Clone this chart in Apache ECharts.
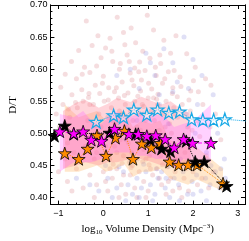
<!DOCTYPE html>
<html><head><meta charset="utf-8">
<script src="https://cdn.jsdelivr.net/npm/echarts@6/dist/echarts.min.js"></script>
<style>html,body{margin:0;padding:0;background:#fff}#c{width:249px;height:241px}</style>
</head><body><div id="c"></div>
<script>
// ---- axis ranges / ticks ----
const X_MIN = -1.18, X_MAX = 3.16, Y_MIN = 0.389, Y_MAX = 0.70;
const xMajor = [-1, 0, 1, 2, 3];
const xMinor = [-1.0,-0.8,-0.6,-0.4,-0.2,0,0.2,0.4,0.6,0.8,1,1.2,1.4,1.6,1.8,2,2.2,2.4,2.6,2.8,3];
const yMajor = [0.40, 0.45, 0.50, 0.55, 0.60, 0.65, 0.70];
const yMinor = [0.39,0.40,0.41,0.42,0.43,0.44,0.45,0.46,0.47,0.48,0.49,0.50,0.51,0.52,0.53,0.54,0.55,0.56,0.57,0.58,0.59,0.60,0.61,0.62,0.63,0.64,0.65,0.66,0.67,0.68,0.69,0.70];

// ---- star series ----
const cyanX = [-0.16, 0.23, 0.45, 0.68, 0.97, 1.21, 1.46, 1.70, 1.97, 2.22, 2.46, 2.71, 3.40];
const cyanY = [0.518, 0.528, 0.525, 0.537, 0.529, 0.537, 0.532, 0.534, 0.522, 0.521, 0.521, 0.522, 0.518];

const magX = [-0.97, -0.66, -0.45, -0.27, -0.04, 0.25, 0.57, 0.78, 0.97, 1.17, 1.38, 1.58, 1.79, 1.99, 2.40];
const magY = [0.503, 0.500, 0.503, 0.490, 0.488, 0.507, 0.499, 0.499, 0.496, 0.497, 0.491, 0.478, 0.491, 0.485, 0.485];

const orgX = [-0.86, -0.55, -0.35, -0.14, 0.06, 0.27, 0.47, 0.66, 0.86, 1.07, 1.27, 1.48, 1.68, 1.89, 2.09, 2.67];
const orgY = [0.469, 0.460, 0.476, 0.497, 0.465, 0.493, 0.504, 0.460, 0.484, 0.478, 0.485, 0.456, 0.451, 0.451, 0.451, 0.422];

const blkX = [-1.09, -0.86, -0.66, 0.14, 0.72, 1.05, 1.30, 1.50, 1.85, 2.05, 2.25, 2.75];
const blkY = [0.496, 0.512, 0.499, 0.501, 0.499, 0.490, 0.476, 0.472, 0.488, 0.456, 0.456, 0.418];

// ---- shaded bands ----
const orgBandX = [-0.86, -0.55, -0.35, -0.14, 0.06, 0.27, 0.47, 0.66, 0.86, 1.07, 1.27, 1.48, 1.68, 1.89, 2.09, 2.67];
const orgBandHi = [0.545, 0.525, 0.530, 0.535, 0.520, 0.530, 0.535, 0.510, 0.520, 0.515, 0.520, 0.490, 0.485, 0.480, 0.478, 0.445];
const orgBandLo = [0.440, 0.440, 0.445, 0.450, 0.440, 0.445, 0.452, 0.432, 0.440, 0.440, 0.445, 0.430, 0.425, 0.420, 0.428, 0.410];

const pinkBandX = [-0.90, -0.60, -0.40, -0.10, 0.10, 0.30, 0.60, 0.85, 1.10, 1.30, 1.50, 1.70, 1.95];
const pinkBandHi = [0.535, 0.548, 0.552, 0.540, 0.546, 0.555, 0.549, 0.557, 0.550, 0.545, 0.550, 0.540, 0.530];
const pinkBandLo = [0.445, 0.450, 0.455, 0.450, 0.455, 0.455, 0.460, 0.460, 0.455, 0.450, 0.450, 0.445, 0.450];

const magBandX = [-0.97, -0.66, -0.45, -0.27, -0.04, 0.25, 0.57, 0.78, 0.97, 1.17, 1.38, 1.58, 1.79, 1.99, 2.40];
const magBandHi = [0.530, 0.525, 0.535, 0.520, 0.515, 0.535, 0.525, 0.530, 0.525, 0.530, 0.525, 0.510, 0.515, 0.518, 0.545];
const magBandLo = [0.440, 0.455, 0.455, 0.455, 0.460, 0.470, 0.470, 0.465, 0.465, 0.460, 0.460, 0.445, 0.460, 0.455, 0.455];

// ---- background galaxies (read approximately) ----
const redX = [-0.38,0.31,0.98,0.62,-0.12,0.15,0.45,1.12,-0.55,-0.25,0.05,0.72,1.35,1.62,0.88,-0.71,-0.42,-0.05,0.21,0.53,0.81,1.04,1.28,1.86,2.05,-0.85,-0.6,-0.3,0.0,0.36,0.6,0.93,1.18,1.45,1.71,2.28,-0.95,-0.48,-0.18,0.12,0.42,0.68,0.85,1.08,1.32,1.55,1.95,2.4,-0.7,-0.32,0.25,0.55,0.77,1.22,1.65,0.48,0.19,1.5,-0.15,0.7,
-1.05,-0.98,-0.9,-0.8,-0.75,-0.65,-0.58,-0.5,-0.45,-0.4,-0.35,-0.28,-0.22,-0.15,-0.1,-0.05,0.02,0.05,0.1,0.14,0.18,0.22,0.27,0.3,0.34,0.38,0.41,0.45,0.49,0.52,0.56,0.6,0.63,0.66,0.7,0.73,0.76,0.8,0.83,0.87,0.9,0.94,0.97,1.0,1.03,1.07,1.1,1.14,1.17,1.21,1.25,1.28,1.32,1.36,1.4,1.44,1.48,1.52,1.57,1.61,1.66,1.7,1.76,1.82,1.88,1.94,2.0,2.08,2.15,2.22,2.3,2.38,2.5,2.62,0.08,0.36,0.58,0.85,1.12,1.38,-0.6,-0.2,0.95,1.6,0.25,0.75,1.05,-0.85,-0.3,0.5,
-1.0,-0.8,-0.6,-0.45,-0.3,-0.15,0.0,0.1,0.2,0.3,0.4,0.5,0.6,0.7,0.8,0.9,1.0,1.1,1.2,1.3,1.4,1.5,1.6,1.7,1.8,1.9,2.0,2.1,2.2,2.35,2.45,0.05,0.35,0.65,0.95,1.25,1.55,1.85,-0.7,-0.2,0.45,1.05,1.45,0.15,0.75,1.75,
-0.62,-0.33,-0.08,0.11,0.29,0.47,0.64,0.83,1.01,1.19,1.37,1.54,1.73,1.91,2.12,-0.47,-0.02,0.38,0.79,1.16,1.58,2.01,-0.78,-0.19,0.33,0.9,1.42,1.98,0.58,1.26,
0.22,0.62,1.02,1.42,1.82,2.18,0.42,0.88,1.32,1.62];
const redY = [0.675,0.681,0.684,0.664,0.652,0.648,0.657,0.661,0.629,0.637,0.633,0.641,0.645,0.652,0.628,0.612,0.603,0.618,0.612,0.622,0.611,0.617,0.609,0.624,0.603,0.592,0.585,0.595,0.589,0.600,0.594,0.598,0.590,0.596,0.588,0.585,0.572,0.568,0.575,0.571,0.580,0.574,0.583,0.569,0.578,0.571,0.566,0.575,0.560,0.562,0.565,0.563,0.558,0.561,0.557,0.638,0.628,0.625,0.605,0.602,
0.530,0.510,0.545,0.485,0.525,0.470,0.540,0.505,0.550,0.480,0.520,0.495,0.545,0.470,0.530,0.510,0.550,0.480,0.525,0.460,0.540,0.500,0.515,0.470,0.555,0.490,0.530,0.465,0.545,0.510,0.485,0.535,0.470,0.520,0.550,0.495,0.460,0.530,0.505,0.545,0.475,0.520,0.490,0.555,0.465,0.535,0.500,0.520,0.480,0.545,0.505,0.465,0.530,0.490,0.550,0.475,0.515,0.500,0.540,0.460,0.525,0.490,0.545,0.470,0.510,0.535,0.480,0.520,0.495,0.545,0.465,0.510,0.530,0.490,0.500,0.535,0.455,0.500,0.555,0.510,0.500,0.460,0.460,0.530,0.480,0.510,0.485,0.460,0.545,0.525,
0.440,0.425,0.445,0.415,0.435,0.420,0.440,0.410,0.430,0.445,0.420,0.405,0.435,0.415,0.440,0.425,0.410,0.435,0.445,0.420,0.405,0.430,0.440,0.415,0.430,0.410,0.440,0.420,0.430,0.415,0.440,0.425,0.400,0.450,0.400,0.430,0.410,0.445,0.410,0.400,0.435,0.445,0.425,0.445,0.400,0.400,
0.548,0.556,0.562,0.552,0.571,0.559,0.583,0.566,0.578,0.553,0.585,0.562,0.573,0.552,0.565,0.592,0.578,0.609,0.596,0.603,0.598,0.582,0.538,0.512,0.498,0.542,0.528,0.505,0.612,0.622,
0.452,0.447,0.451,0.448,0.455,0.448,0.453,0.456,0.451,0.458];

const blueX = [0.6,0.95,1.35,1.55,1.8,2.0,1.15,1.65,2.2,0.3,0.8,1.25,1.9,2.45,2.1,
0.2,0.5,0.9,1.2,1.45,1.75,2.05,2.3,2.55,2.7,0.7,1.0,1.6,1.95,2.4,
0.1,0.3,0.45,0.55,0.65,0.75,0.85,0.95,1.05,1.15,1.22,1.3,1.38,1.48,1.58,1.68,1.78,1.88,1.98,2.08,2.18,2.28,2.38,2.5,2.6,2.72,0.2,0.5,0.8,1.1,1.4,1.7,2.0,2.3,-0.3,-0.6,0.05,-0.1,
0.35,0.62,0.9,1.18,1.45,1.72,2.02,2.32,2.62,0.75,1.25,1.85,2.15,1.05,1.55];
const blueY = [0.600,0.625,0.632,0.610,0.650,0.615,0.590,0.580,0.590,0.590,0.570,0.560,0.570,0.560,0.545,
0.520,0.490,0.530,0.470,0.515,0.480,0.500,0.470,0.500,0.460,0.460,0.500,0.455,0.455,0.450,
0.430,0.415,0.440,0.420,0.405,0.430,0.415,0.440,0.420,0.405,0.430,0.440,0.415,0.400,0.430,0.420,0.440,0.405,0.425,0.435,0.410,0.430,0.420,0.440,0.415,0.430,0.400,0.395,0.400,0.395,0.430,0.395,0.405,0.395,0.420,0.430,0.450,0.410,
0.448,0.455,0.452,0.445,0.448,0.460,0.452,0.458,0.445,0.520,0.545,0.530,0.515,0.610,0.565];

const zip = (xs, ys) => xs.map((x, i) => [x, ys[i]]);
const STAR = 'path://M50,0L61.23,34.55L97.55,34.55L68.17,55.9L79.39,90.45L50,69.1L20.61,90.45L31.83,55.9L2.45,34.55L38.77,34.55Z';

function band(xs, lo, hi, color, z) {
  return {
    type: 'custom', coordinateSystem: 'cartesian2d', silent: true, clip: true, z: z,
    data: [[xs[0], lo[0]]],
    renderItem: function (params, api) {
      const pts = [];
      for (let i = 0; i < xs.length; i++) pts.push(api.coord([xs[i], hi[i]]));
      for (let i = xs.length - 1; i >= 0; i--) pts.push(api.coord([xs[i], lo[i]]));
      return { type: 'polygon', shape: { points: pts }, style: { fill: color } };
    }
  };
}
function starLine(xs, ys, fill, stroke, lineColor, lineType, z, bw) {
  return {
    type: 'line', data: zip(xs, ys), clip: true, z: z,
    symbol: STAR, symbolSize: 13, symbolKeepAspect: true,
    itemStyle: { color: fill, borderColor: stroke, borderWidth: bw },
    lineStyle: { color: lineColor, width: 1, type: lineType },
    emphasis: { disabled: true }, animation: false
  };
}

const font = 'Liberation Sans';
const axisLine = { show: true, onZero: false, lineStyle: { color: '#000', width: 1 } };
function xAx(pos, ticks, len, labels) {
  return {
    type: 'value', min: X_MIN, max: X_MAX, position: pos, splitLine: { show: false },
    axisLine: axisLine,
    axisTick: { show: true, inside: true, length: len, customValues: ticks, lineStyle: { color: '#000' } },
    axisLabel: labels ? { show: true, customValues: xMajor, color: '#000', fontFamily: font, fontSize: 9, margin: 4,
      formatter: v => (v < 0 ? '\u2212' + (-v) : String(v)) } : { show: false }
  };
}
function yAx(pos, ticks, len, labels) {
  return {
    type: 'value', min: Y_MIN, max: Y_MAX, position: pos, splitLine: { show: false },
    axisLine: axisLine,
    axisTick: { show: true, inside: true, length: len, customValues: ticks, lineStyle: { color: '#000' } },
    axisLabel: labels ? { show: true, customValues: yMajor, color: '#000', fontFamily: font, fontSize: 9, margin: 3,
      formatter: v => v.toFixed(2) } : { show: false }
  };
}

const xAxes = [xAx('bottom', xMajor, 4, true), xAx('bottom', xMinor, 2, false), xAx('top', xMajor, 4, false), xAx('top', xMinor, 2, false)];
xAxes[0].name = '{a|log}{s|10}{a| Volume Density (Mpc}{p|\u22123}{a|)}';
xAxes[0].nameLocation = 'middle';
xAxes[0].nameGap = 17;
xAxes[0].nameTextStyle = {
  rich: {
    a: { fontFamily: 'Liberation Serif', fontSize: 11, color: '#000', lineHeight: 14 },
    s: { fontFamily: 'Liberation Serif', fontSize: 7, color: '#000', padding: [7, 0, 0, 0] },
    p: { fontFamily: 'Liberation Serif', fontSize: 7, color: '#000', padding: [0, 0, 6, 0] }
  }
};
const yAxes = [yAx('left', yMajor, 4, true), yAx('left', yMinor, 2, false), yAx('right', yMajor, 4, false), yAx('right', yMinor, 2, false)];
yAxes[0].name = 'D/T';
yAxes[0].nameLocation = 'middle';
yAxes[0].nameGap = 19;
yAxes[0].nameTextStyle = { fontFamily: 'Liberation Serif', fontSize: 11, color: '#000' };

const chart = echarts.init(document.getElementById('c'), null, { renderer: 'canvas' });
chart.setOption({
  animation: false,
  grid: { left: 33, right: 4, top: 5, bottom: 24, containLabel: false },
  xAxis: xAxes,
  yAxis: yAxes,
  series: [
    { type: 'scatter', data: zip(redX, redY), symbolSize: 5, clip: true, z: 1,
      itemStyle: { color: 'rgba(215,115,125,0.30)' }, silent: true },
    { type: 'scatter', data: zip(blueX, blueY), symbolSize: 5, clip: true, z: 1,
      itemStyle: { color: 'rgba(115,115,215,0.28)' }, silent: true },
    band(orgBandX, orgBandLo, orgBandHi, 'rgba(255,185,110,0.35)', 2),
    band(pinkBandX, pinkBandLo, pinkBandHi, 'rgba(255,120,140,0.32)', 2),
    band(magBandX, magBandLo, magBandHi, 'rgba(255,90,255,0.28)', 2),
    starLine(orgX, orgY, '#FF8C00', '#000', '#FF8C00', 'dotted', 5, 0.8),
    starLine(blkX, blkY, '#000', '#000', '#000', 'dotted', 6, 0.8),
    starLine(magX, magY, '#FF00FF', '#000', '#FF00FF', 'dashed', 7, 0.8),
    starLine(cyanX, cyanY, 'rgba(255,255,255,0.35)', '#19A9E6', '#19A9E6', 'dotted', 8, 1.2)
  ]
});
</script></body></html>
